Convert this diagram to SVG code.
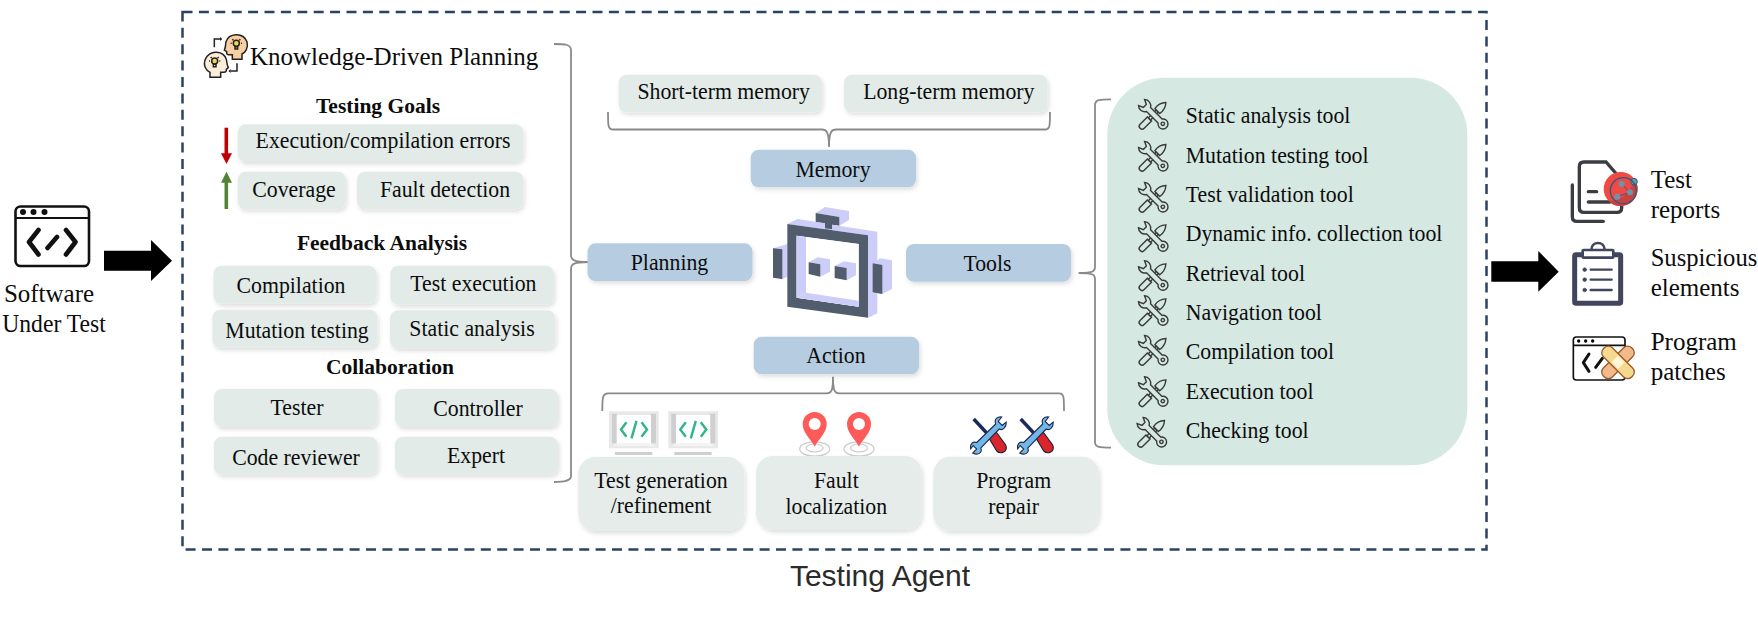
<svg xmlns="http://www.w3.org/2000/svg" xmlns:xlink="http://www.w3.org/1999/xlink" width="1758" height="622" viewBox="0 0 1758 622">
<style>
text{font-family:"Liberation Serif","Times New Roman",serif;font-size:23.7px;fill:#0c0c0c}
.m{text-anchor:middle}
.h{font-weight:bold;font-size:21.5px;text-anchor:middle}
.big{font-size:25px}
.sub{fill:#e2ebe7;filter:url(#sh)}
.act{fill:#e6ecea;filter:url(#sh)}
.core{fill:#b6cde1;filter:url(#sh)}
.brace{fill:none;stroke:#8a8a8a;stroke-width:1.8}
.dark{fill:#515c6d}
.light{fill:#cccdf8}
.wr{fill:#d5e8e2;stroke:#3a3a3a;stroke-width:1.65}
</style>
<defs>
<filter id="sh" x="-10%" y="-20%" width="120%" height="145%"><feDropShadow dx="1.5" dy="2.5" stdDeviation="2" flood-color="#000" flood-opacity=".13"/></filter>
<g id="wrench" transform="scale(.86)">
<g transform="rotate(-45)">
<path class="wr" d="M-19 -3.4H-7V3.4H-19A3.4 3.4 0 0 1 -19 -3.4Z"/>
<path class="wr" d="M-7 -1.8H6V1.8H-7Z"/>
<path class="wr" d="M6 -4Q14 -5.5 20 0Q14 5.5 6 4Z"/>
</g>
<g transform="rotate(45)">
<path class="wr" d="M-8.5 -3.3H10.5A5.8 5.8 0 1 1 10.5 3.3H-8.5A7.4 7.4 0 0 1 -20 5L-14.5 2.4V-2.4L-20 -5A7.4 7.4 0 0 1 -8.5 -3.3Z"/>
<circle class="wr" cx="15" cy="0" r="2"/>
</g>
</g>
<g id="monitor">
<rect x="0" y="0" width="49.7" height="37" fill="#e8e8e8"/>
<path d="M3 2.5H8V32H3ZM41.5 2.5H47V32H41.5Z" fill="#cfcfcf"/>
<path d="M8 32H41.5L47 35H3Z" fill="#f3f3f3"/>
<rect x="7.7" y="3.7" width="34.3" height="28.3" fill="#fff"/>
<path d="M17.5 11L12 18.3L17.5 25.5M32.5 11L38 18.3L32.5 25.5M27.5 9.5L22.5 27" fill="none" stroke="#2fb48d" stroke-width="2.4"/>
<rect x="6" y="40.7" width="37.3" height="3" fill="#cfcfcf"/>
</g>
<g id="pin">
<ellipse cx="0" cy="37" rx="15" ry="7.2" fill="none" stroke="#cacaca" stroke-width="1.2"/>
<ellipse cx="0" cy="36" rx="8.5" ry="4" fill="none" stroke="#cacaca" stroke-width="1.2"/>
<path d="M0 34.5C-4 27 -12 21 -12 12A12 12 0 0 1 12 12C12 21 4 27 0 34.5Z" fill="#fe5a5a"/>
<circle cx="0" cy="12" r="6" fill="#fff"/>
</g>
<g id="repair">
<path d="M-15 -17L-2 -3" stroke="#1b2a5a" stroke-width="3.4" fill="none"/>
<path d="M-1 0L6 -6L17 9Q19 14 15 16Q11 18 8 15Z" fill="#d8262c" stroke="#1b1f33" stroke-width="1.1"/>
<path d="M-12 6.5L7 -12C5 -17 9 -19.5 13 -19L9.5 -14.5L13.5 -10.5L17.5 -14C18 -9 14 -5 10.5 -7L-8 12C-6 16 -10 20 -16 17L-12 13L-15.5 9.5L-18 13C-19 8 -16 5 -12 6.5Z" fill="#72b7e8" stroke="#1b2a4a" stroke-width="1.1"/>
</g>
</defs>
<rect width="1758" height="622" fill="#fff"/>

<g id="agent-frame"><rect x="182.5" y="12" width="1304" height="537.5" fill="none" stroke="#2b4266" stroke-width="2.5" stroke-dasharray="10 6.4"/></g>

<g id="connectors">
<path d="M104 250.7H151V240L172 260.7L151 281V270.7H104Z" fill="#000"/>
<path d="M1491.3 261.3H1538.3V251L1558.7 271.7L1538.3 291.7V281.7H1491.3Z" fill="#000"/>
<path d="M554 44C564 44 571 44 571 50V255C571 260 574 262 588 262C574 262 571 264 571 269V476C571 481 564 482 554 482" class="brace"/>
<path d="M608 112C608 126 608 129.5 613 129.5H822C826 129.5 829 131 829 147C829 131 832 129.5 836 129.5H1045C1050 129.5 1050 126 1050 112" class="brace"/>
<path d="M602.3 411C602.3 396 603 393.3 608 393.3H827C831 393.3 833 392 833 376.7C833 392 835 393.3 839 393.3H1059C1064 393.3 1064 397 1064 411" class="brace"/>
<path d="M1111 99.3C1100 99.3 1095 99.3 1095 105V267C1095 271 1094 273 1078.6 273C1094 273 1095 275 1095 279V442C1095 447.7 1100 447.7 1111 447.7" class="brace"/>
<path d="M226.3 127.7V155" stroke="#c00000" stroke-width="3.6" fill="none"/><path d="M221 153.3H232L226.5 164Z" fill="#c00000"/>
<path d="M226.3 209V181" stroke="#548235" stroke-width="3.6" fill="none"/><path d="M221 182.7H232L226.5 171.7Z" fill="#548235"/>
</g>

<g id="software-under-test">
<rect x="15.5" y="206.5" width="73.5" height="59.5" rx="5" fill="#fff" stroke="#111" stroke-width="2.6"/>
<path d="M15.5 218H89" stroke="#111" stroke-width="2.2"/>
<circle cx="23" cy="212" r="3" fill="#111"/><circle cx="33.5" cy="212" r="3" fill="#111"/><circle cx="44.5" cy="212" r="3" fill="#111"/>
<path d="M38.5 230L29 242L38.5 254.5M66 230L75.5 242L66 254.5M47.5 248L57 237" fill="none" stroke="#111" stroke-width="4.6" stroke-linecap="round" stroke-linejoin="round"/>
<text class="big m" x="49" y="301.7">Software</text>
<text class="big m" transform="translate(54 332) scale(.945 1)">Under Test</text>
</g>

<g id="planning-panel">
<g id="kdp-icon" transform="scale(.33333)" stroke="#222" stroke-width="4.5">
<path d="M697 178V164H685Q679 164 680 155L673 150C678 140 676 134 678 125C686 100 728 94 741 125C746 145 735 158 726 162V178Z" fill="#f8cfa2"/>
<circle cx="709" cy="130" r="9" fill="#f7d44c"/><path d="M705 140H713V147H705ZM692 130H695M723 130H726M697 118L700 121M721 118L718 121" fill="none"/>
<path d="M662 232V217H672Q680 217 679 208L685 203C680 193 681 187 679 178C672 153 630 146 616 178C608 198 620 212 630 217V232Z" fill="#fdeedb"/>
<circle cx="644" cy="183" r="9" fill="#f7d44c"/><path d="M640 193H648V200H640ZM627 183H630M658 183H661M632 171L635 174M656 171L653 174" fill="none"/>
<path d="M643 142V117H660M711 190V213H692" fill="none"/>
<path d="M660 111L667 117L660 123ZM692 207L685 213L692 219Z" fill="#222" stroke="none"/>
</g>
<text class="big" x="250" y="65">Knowledge-Driven Planning</text>
<text class="h" x="378" y="112.7">Testing Goals</text>
<text class="h" x="382" y="250">Feedback Analysis</text>
<text class="h" x="390" y="374.3">Collaboration</text>
</g>

<g id="goal-errors"><rect class="sub" x="237.7" y="124.3" width="285.6" height="37.7" rx="8"/><text class="m" transform="translate(383 148.3) scale(.92 1)">Execution/compilation errors</text></g>
<g id="goal-coverage"><rect class="sub" x="237.7" y="171.7" width="108" height="37.6" rx="8"/><text class="m" transform="translate(294 197.3) scale(.92 1)">Coverage</text></g>
<g id="goal-fault"><rect class="sub" x="357" y="171.7" width="166.3" height="37.6" rx="8"/><text class="m" transform="translate(445 196.7) scale(.92 1)">Fault detection</text></g>
<g id="fb-compilation"><rect class="sub" x="213.5" y="265.7" width="163" height="38" rx="8"/><text class="m" transform="translate(291 292.7) scale(.92 1)">Compilation</text></g>
<g id="fb-execution"><rect class="sub" x="390.4" y="265.7" width="163.4" height="39" rx="8"/><text class="m" transform="translate(473.4 291) scale(.92 1)">Test execution</text></g>
<g id="fb-mutation"><rect class="sub" x="212.4" y="309.7" width="165" height="38" rx="8"/><text class="m" transform="translate(297 337.7) scale(.92 1)">Mutation testing</text></g>
<g id="fb-static"><rect class="sub" x="390" y="310.3" width="165.3" height="38.4" rx="8"/><text class="m" transform="translate(472 336) scale(.92 1)">Static analysis</text></g>
<g id="co-tester"><rect class="sub" x="214" y="389" width="163.5" height="38" rx="8"/><text class="m" transform="translate(297 415) scale(.92 1)">Tester</text></g>
<g id="co-controller"><rect class="sub" x="395" y="389" width="163" height="38" rx="8"/><text class="m" transform="translate(478 415.7) scale(.92 1)">Controller</text></g>
<g id="co-reviewer"><rect class="sub" x="214" y="436.7" width="163.5" height="38" rx="8"/><text class="m" transform="translate(296 465) scale(.92 1)">Code reviewer</text></g>
<g id="co-expert"><rect class="sub" x="395" y="436.7" width="163" height="38" rx="8"/><text class="m" transform="translate(476 463.3) scale(.92 1)">Expert</text></g>

<g id="short-term"><rect class="sub" x="618.6" y="74.7" width="203.2" height="37.6" rx="8"/><text class="m" transform="translate(723.7 99.3) scale(.92 1)">Short-term memory</text></g>
<g id="long-term"><rect class="sub" x="844" y="74.7" width="203.5" height="37.6" rx="8"/><text class="m" transform="translate(948.8 99.3) scale(.92 1)">Long-term memory</text></g>
<g id="memory"><rect class="core" x="750.7" y="149.7" width="165.3" height="37.6" rx="8"/><text class="m" transform="translate(833 176.7) scale(.92 1)">Memory</text></g>
<g id="planning"><rect class="core" x="587.5" y="243.3" width="165" height="37.7" rx="8"/><text class="m" transform="translate(669.5 270) scale(.92 1)">Planning</text></g>
<g id="tools"><rect class="core" x="906" y="244" width="165" height="37.7" rx="8"/><text class="m" transform="translate(987.5 271) scale(.92 1)">Tools</text></g>
<g id="action"><rect class="core" x="753.7" y="336.7" width="165.3" height="37.6" rx="8"/><text class="m" transform="translate(836 363.3) scale(.92 1)">Action</text></g>

<g id="robot" transform="translate(500 50) scale(.33333)">
<polygon class="light" points="947,489 975,471 1047,483 1047,510 1018,527 1018,501"/>
<polygon class="dark" points="947,489 1018,501 1018,527 997,524 997,548 975,545 975,520 947,517"/>
<polygon class="light" points="862,522 892,507 975,520 975,535 997,538 997,524 1132,545 1132,790 1104,803 1104,556"/>
<polygon class="light" points="819,595 862,582 862,680 847,687 819,683"/>
<polygon class="dark" points="819,595 847,598 847,687 819,683"/>
<polygon class="light" points="1118,640 1140,625 1176,631 1176,717 1147,732 1118,727"/>
<polygon class="dark" points="1118,640 1147,645 1147,732 1118,727"/>
<path class="dark" d="M862 522L1104 556V803L862 770ZM890 557V743L1076 770V582Z" fill-rule="evenodd"/>
<polygon points="890,557 1076,582 1076,770 890,743" fill="#fff"/>
<polygon class="light" points="890,557 918,562 918,728 890,743"/>
<polygon class="light" points="890,743 918,728 1076,752 1076,770"/>
<polygon class="light" points="926,637 953,622 990,628 990,665 961,680 961,643"/>
<polygon class="dark" points="926,637 961,643 961,680 926,672"/>
<polygon class="light" points="1004,648 1032,634 1068,640 1068,676 1040,691 1040,654"/>
<polygon class="dark" points="1004,648 1040,654 1040,691 1004,684"/>
</g>

<g id="test-generation">
<use href="#monitor" xlink:href="#monitor" x="609" y="411.3"/><use href="#monitor" xlink:href="#monitor" x="668.3" y="411.3"/>
<rect class="act" x="578.3" y="457" width="166" height="74" rx="17"/>
<text class="m" transform="translate(661 487.7) scale(.92 1)">Test generation</text><text class="m" transform="translate(661 513.3) scale(.92 1)">/refinement</text>
</g>
<g id="fault-localization">
<use href="#pin" xlink:href="#pin" x="814.7" y="412"/><use href="#pin" xlink:href="#pin" x="859" y="412"/>
<rect class="act" x="756" y="456" width="165.7" height="74" rx="17"/>
<text class="m" transform="translate(836.3 487.7) scale(.92 1)">Fault</text><text class="m" transform="translate(836.3 514) scale(.92 1)">localization</text>
</g>
<g id="program-repair">
<use href="#repair" xlink:href="#repair" x="988.7" y="436"/><use href="#repair" xlink:href="#repair" x="1035.7" y="436"/>
<rect class="act" x="933.3" y="456.7" width="165.7" height="74" rx="17"/>
<text class="m" transform="translate(1013.7 488.3) scale(.92 1)">Program</text><text class="m" transform="translate(1013.7 514) scale(.92 1)">repair</text>
</g>

<g id="tool-panel">
<rect x="1107.3" y="77.7" width="360" height="387.6" rx="57" fill="#d5e8e2"/>
<use href="#wrench" xlink:href="#wrench" x="1153.7" y="114.7"/><text transform="translate(1185.7 123.3) scale(.92 1)">Static analysis tool</text>
<use href="#wrench" xlink:href="#wrench" x="1153.7" y="156.7"/><text transform="translate(1185.7 162.7) scale(.92 1)">Mutation testing tool</text>
<use href="#wrench" xlink:href="#wrench" x="1153.7" y="197.7"/><text transform="translate(1185.7 202) scale(.92 1)">Test validation tool</text>
<use href="#wrench" xlink:href="#wrench" x="1153.7" y="237"/><text transform="translate(1185.7 241.3) scale(.92 1)">Dynamic info. collection tool</text>
<use href="#wrench" xlink:href="#wrench" x="1153.7" y="276"/><text transform="translate(1185.7 280.7) scale(.92 1)">Retrieval tool</text>
<use href="#wrench" xlink:href="#wrench" x="1153.7" y="311"/><text transform="translate(1185.7 320) scale(.92 1)">Navigation tool</text>
<use href="#wrench" xlink:href="#wrench" x="1153.7" y="350.7"/><text transform="translate(1185.7 359.3) scale(.92 1)">Compilation tool</text>
<use href="#wrench" xlink:href="#wrench" x="1153.7" y="392"/><text transform="translate(1185.7 398.7) scale(.92 1)">Execution tool</text>
<use href="#wrench" xlink:href="#wrench" x="1152.3" y="432.7"/><text transform="translate(1185.7 438) scale(.92 1)">Checking tool</text>
</g>

<g id="test-reports">
<g transform="translate(1520 130) scale(.33333)">
<path d="M258 96H192Q178 96 178 110V233Q178 247 192 247H291Q305 247 305 233V150ZM157 165V260Q157 274 171 274H250M205 185H230M205 216H270" fill="none" stroke="#3b3d42" stroke-width="10" stroke-linecap="round"/>
<circle cx="302" cy="177" r="51" fill="#f04a45"/>
<path d="M345 150A51 51 0 0 1 262 209Q310 225 345 150Z" fill="#c9423f"/>
<circle cx="342" cy="155" r="10" fill="#6d93ad" stroke="#2e5b7d" stroke-width="3"/>
<circle cx="310" cy="182" r="39" fill="none" stroke="#2e5b7d" stroke-width="4"/>
<path d="M305 162L330 187L292 200" fill="none" stroke="#2e5b7d" stroke-width="3"/>
<circle cx="305" cy="162" r="9" fill="#6d93ad"/><circle cx="330" cy="187" r="9" fill="#6d93ad"/><circle cx="292" cy="200" r="9" fill="#6d93ad"/>
</g>
<text class="big" x="1650.7" y="188.3">Test</text><text class="big" x="1650.7" y="217.7">reports</text>
</g>
<g id="suspicious-elements">
<g transform="translate(1520 130) scale(.33333)" stroke="#41455e" stroke-linecap="round">
<rect x="164" y="374" width="138" height="146" rx="4" fill="#fff" stroke-width="15"/>
<path d="M214 360C214 332 254 332 254 360" fill="none" stroke-width="8"/>
<rect x="188" y="360" width="92" height="23" rx="3" fill="#fff" stroke-width="8"/>
<path d="M212 419H275M212 449H275M212 480H275" fill="none" stroke-width="7"/>
<circle cx="194" cy="419" r="5.5" fill="#41455e" stroke-width="2"/><circle cx="194" cy="449" r="5.5" fill="#41455e" stroke-width="2"/><circle cx="194" cy="480" r="5.5" fill="#41455e" stroke-width="2"/>
</g>
<text class="big" x="1650.7" y="266" style="font-size:24.6px">Suspicious</text><text class="big" x="1650.7" y="295.7">elements</text>
</g>
<g id="program-patches">
<g transform="translate(1520 130) scale(.33333)">
<ellipse cx="300" cy="728" rx="34" ry="10" fill="#cfe3e6"/>
<rect x="160" y="621" width="155" height="129" rx="9" fill="#fff" stroke="#111" stroke-width="5"/>
<path d="M160 646H315" stroke="#111" stroke-width="5"/>
<circle cx="176" cy="633" r="5"/><circle cx="197" cy="633" r="5"/><circle cx="218" cy="633" r="5"/>
<path d="M207 672L190 698L207 724M227 712L247 685" fill="none" stroke="#111" stroke-width="9" stroke-linecap="round" stroke-linejoin="round"/>
<g transform="translate(294 697)" stroke="#9c5a2c" stroke-width="4">
<rect x="-60" y="-19" width="120" height="38" rx="17" fill="#f2b98a" transform="rotate(-45)"/>
<rect x="-60" y="-19" width="120" height="38" rx="17" fill="#f5d98f" transform="rotate(45)"/>
<rect x="-14" y="-14" width="28" height="28" fill="#fff6d8" stroke="none" transform="rotate(45)"/>
</g>
</g>
<text class="big" x="1650.7" y="350">Program</text><text class="big" x="1650.7" y="379.5">patches</text>
</g>

<g id="testing-agent-label"><text x="880" y="585.7" text-anchor="middle" style="font-family:'Liberation Sans',Arial,sans-serif;font-size:30px;fill:#2b2b2b">Testing Agent</text></g>
</svg>
